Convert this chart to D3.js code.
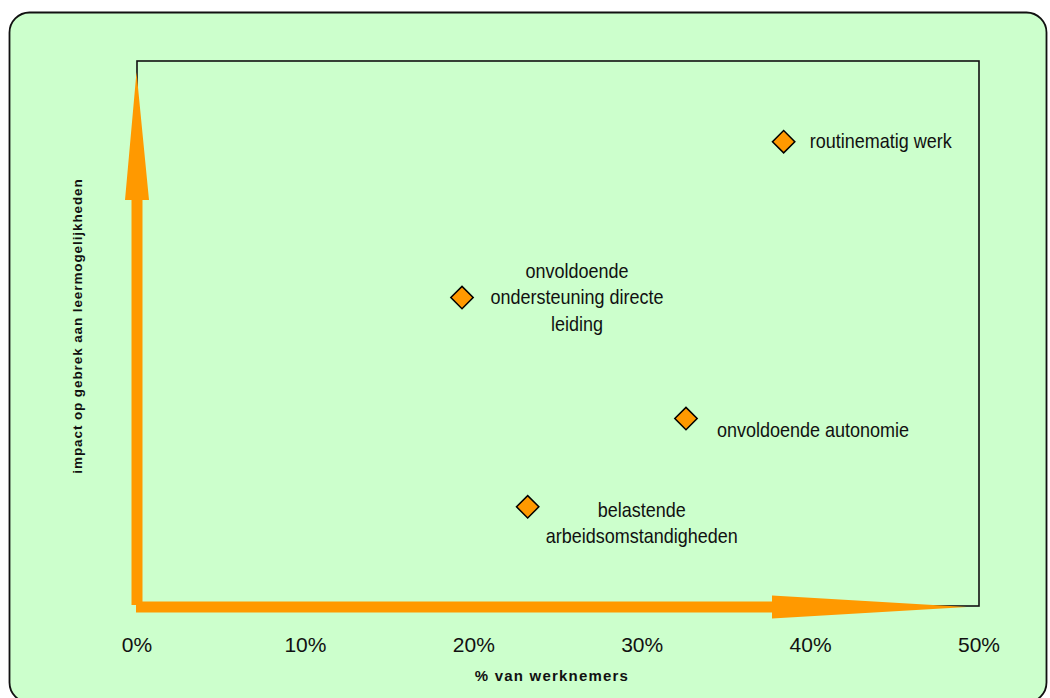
<!DOCTYPE html>
<html>
<head>
<meta charset="utf-8">
<script src="https://cdn.jsdelivr.net/npm/d3@7"></script>
<style>
  body { margin: 0; background: #ffffff; }
  svg { display: block; font-family: "Liberation Sans", Arial, sans-serif; }
</style>
</head>
<body>
<div id="chart"></div>
<script>
// data
const labels = [
  ['routinematig werk'],
  ['onvoldoende', 'ondersteuning directe', 'leiding'],
  ['onvoldoende autonomie'],
  ['belastende', 'arbeidsomstandigheden']
];
const pctWerknemers = [38.4, 19.3, 32.6, 23.2];
const impact = [4.26, 2.83, 1.72, 0.91];
const xTicks = [0, 10, 20, 30, 40, 50];

// where each label sits relative to its point
const labelPos = [
  { dx: 26, dy: 6, anchor: 'start' },
  { dx: 115, dy: -20, anchor: 'middle' },
  { dx: 31, dy: 18, anchor: 'start' },
  { dx: 114, dy: 10, anchor: 'middle' }
];

const width = 1050;
const height = 698;
const margin = { top: 61, right: 71, bottom: 92, left: 137 };

const svg = d3.select('#chart')
  .append('svg')
  .attr('width', width)
  .attr('height', height);

// achtergrond met ronde hoeken
svg.append('rect')
  .attr('x', 9.5).attr('y', 12.5)
  .attr('width', 1037).attr('height', 690)
  .attr('rx', 20).attr('ry', 20)
  .attr('fill', '#ccffcc')
  .attr('stroke', '#111')
  .attr('stroke-width', 1.8);

const x = d3.scaleLinear()
  .domain([0, 50])
  .range([margin.left, width - margin.right]);

const y = d3.scaleLinear()
  .domain([0, 5])
  .range([height - margin.bottom, margin.top]);

// plot kader
svg.append('rect')
  .attr('x', x(0)).attr('y', y(5))
  .attr('width', x(50) - x(0)).attr('height', y(0) - y(5))
  .attr('fill', 'none')
  .attr('stroke', '#111')
  .attr('stroke-width', 1.6);

// oranje pijlen langs de assen
const x0 = x(0), y0 = y(0);
const shaft = 5.5;
const hTip = x(50) - 12, hBase = hTip - 195, hHalf = 11.5;
svg.append('path')
  .attr('fill', '#ff9900')
  .attr('d', d3.line()([
    [x0 - 1, y0 - shaft + 1], [hBase, y0 - shaft + 1], [hBase, y0 - hHalf + 1],
    [hTip, y0 + 1], [hBase, y0 + hHalf + 1], [hBase, y0 + shaft + 1], [x0 - 1, y0 + shaft + 1]
  ]) + 'Z');

const vTip = y(5) + 11, vBase = vTip + 128, vHalf = 12;
svg.append('path')
  .attr('fill', '#ff9900')
  .attr('d', d3.line()([
    [x0 - shaft, y0 - 1], [x0 - shaft, vBase], [x0 - vHalf, vBase],
    [x0 - 0.5, vTip], [x0 + vHalf, vBase], [x0 + shaft, vBase], [x0 + shaft, y0 - 1]
  ]) + 'Z');

// x as tick labels
svg.append('g')
  .selectAll('text')
  .data(xTicks)
  .join('text')
  .attr('x', d => x(d))
  .attr('y', 652)
  .attr('text-anchor', 'middle')
  .attr('font-size', 21)
  .attr('fill', '#111')
  .text(d => d + '%');

// as titels
svg.append('text')
  .attr('x', 552).attr('y', 681)
  .attr('text-anchor', 'middle')
  .attr('font-size', 15)
  .attr('font-weight', 'bold')
  .attr('letter-spacing', 1.2)
  .attr('fill', '#111')
  .text('% van werknemers');

svg.append('text')
  .attr('transform', 'translate(82,326) rotate(-90)')
  .attr('text-anchor', 'middle')
  .attr('font-size', 13.5)
  .attr('font-weight', 'bold')
  .attr('letter-spacing', 0.9)
  .attr('fill', '#111')
  .text('impact op gebrek aan leermogelijkheden');

// punten (ruiten)
const pts = d3.range(labels.length);
svg.append('g')
  .selectAll('path')
  .data(pts)
  .join('path')
  .attr('d', d3.symbol(d3.symbolSquare, 250))
  .attr('transform', i => `translate(${x(pctWerknemers[i])},${y(impact[i])}) rotate(45)`)
  .attr('fill', '#ff9900')
  .attr('stroke', '#000')
  .attr('stroke-width', 1.5);

// labels (iets smaller en hoger, zoals in het origineel)
const lbl = svg.append('g')
  .selectAll('text')
  .data(pts)
  .join('text')
  .attr('transform', i => `translate(${x(pctWerknemers[i]) + labelPos[i].dx},${y(impact[i]) + labelPos[i].dy}) scale(0.9,1)`)
  .attr('text-anchor', i => labelPos[i].anchor)
  .attr('font-size', 20)
  .attr('fill', '#111');

lbl.selectAll('tspan')
  .data(i => labels[i])
  .join('tspan')
  .attr('x', 0)
  .attr('dy', (d, j) => j === 0 ? 0 : 26.5)
  .text(d => d);
</script>
</body>
</html>
